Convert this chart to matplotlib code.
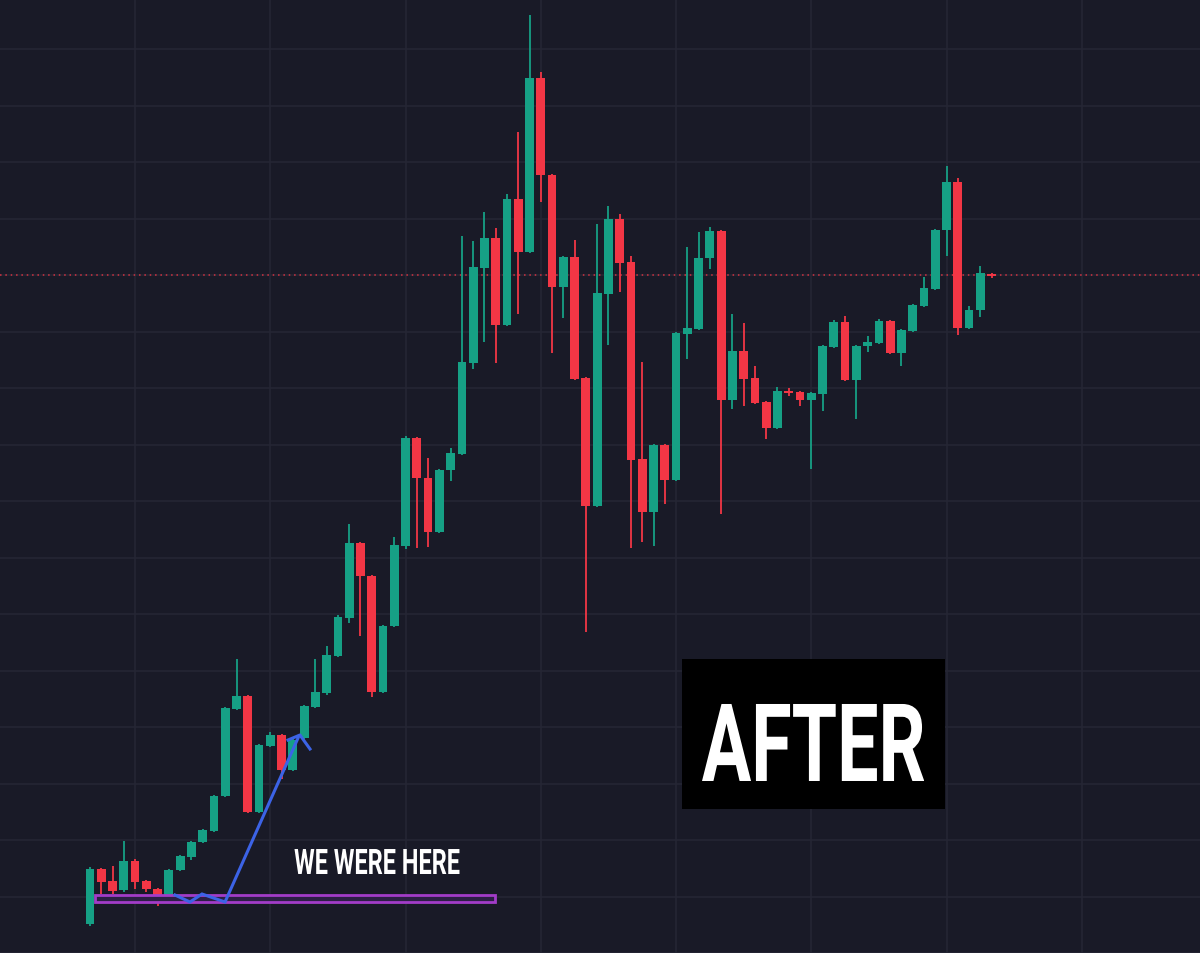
import matplotlib
matplotlib.use("Agg")
import matplotlib.pyplot as plt
import numpy as np
from matplotlib import patheffects
from matplotlib.patches import Rectangle
from matplotlib.ticker import MultipleLocator
from matplotlib.transforms import Affine2D

# candle data (price units)
opens = [29, 84, 72, 63, 92, 72, 64, 52, 83, 96,
         111, 122, 157, 244, 257, 141, 207, 218, 183, 215,
         246, 260, 297, 335, 410, 377, 261, 327, 407, 515,
         475, 421, 483, 499, 590, 685, 715, 628, 754, 701,
         875, 778, 666, 696, 575, 447, 659, 734, 691, 494,
         441, 508, 473, 619, 624, 695, 722, 553, 602, 575,
         551, 525, 562, 561, 553, 559, 606, 631, 573, 607,
         610, 632, 600, 622, 647, 664, 723, 771, 625, 643, 679]
highs = [86, 85, 87, 112, 94, 73, 65, 84, 98, 112,
         124, 158, 246, 294, 258, 209, 221, 219, 214, 248,
         294, 307, 338, 429, 411, 378, 328, 416, 517, 516,
         495, 484, 505, 717, 712, 741, 725, 759, 821, 938,
         881, 779, 697, 713, 576, 729, 747, 739, 697, 591,
         509, 509, 621, 706, 721, 726, 723, 639, 630, 587,
         552, 566, 565, 562, 561, 608, 633, 637, 608, 617,
         634, 633, 624, 649, 676, 724, 787, 775, 647, 687, 680]
lows = [27, 59, 59, 61, 64, 61, 47, 51, 82, 93,
        110, 121, 156, 243, 140, 140, 206, 174, 182, 214,
        245, 258, 296, 330, 317, 256, 260, 326, 404, 405,
        406, 420, 472, 498, 584, 611, 590, 627, 639, 700,
        751, 600, 635, 573, 321, 446, 608, 661, 405, 411,
        407, 449, 472, 594, 623, 684, 439, 544, 547, 549,
        514, 524, 557, 547, 484, 542, 605, 572, 534, 601,
        609, 599, 587, 621, 646, 663, 697, 618, 624, 636, 675]
closes = [84, 71, 62, 92, 71, 64, 51, 83, 97, 111,
          123, 157, 245, 257, 141, 208, 218, 183, 213, 247,
          261, 298, 336, 410, 377, 261, 327, 408, 515, 475,
          421, 483, 500, 591, 686, 715, 628, 754, 701, 875,
          778, 666, 696, 574, 447, 660, 734, 690, 493, 441,
          508, 473, 620, 625, 695, 722, 553, 602, 574, 550,
          525, 562, 560, 553, 560, 607, 631, 573, 607, 611,
          632, 600, 623, 648, 665, 723, 771, 625, 643, 680, 677]

last_price = 678

# annotations
zone_start, zone_end = 0.44, 35.94
zone_low, zone_high = 51, 58
arrow_x = [7.54, 8.87, 9.94, 11.98, 18.46]
arrow_y = [58, 51, 59, 51, 215]
head_x = [17.57, 18.63, 19.52]
head_y = [213, 218, 204]

BG = "#191a27"
GRID = "#252634"
UP = "#16a085"
DOWN = "#f23645"


class SqueezeTo(patheffects.AbstractPathEffect):
    """Squeeze text horizontally to a target width (condensed look)."""

    def __init__(self, width_px):
        super().__init__()
        self.width_px = width_px

    def draw_path(self, renderer, gc, tpath, affine, rgbFace=None):
        bb = tpath.get_extents(affine)
        sx = self.width_px / bb.width
        cx = bb.x0 + bb.width / 2
        squeeze = Affine2D().translate(-cx, 0).scale(sx, 1).translate(cx, 0)
        renderer.draw_path(gc, tpath, affine + squeeze, rgbFace)


fig = plt.figure(figsize=(12, 9.54), dpi=100)
fig.patch.set_facecolor(BG)
ax = fig.add_axes([0, 0, 1, 1])
ax.set_facecolor(BG)

o = np.array(opens)
c = np.array(closes)
h = np.array(highs)
l = np.array(lows)
x = np.arange(len(o))
colors = np.where(c >= o, UP, DOWN)

ax.vlines(x, l, h, colors=colors, linewidth=1.3, zorder=3)
body_h = np.maximum(np.abs(c - o), 1.5)
ax.bar(x, body_h, bottom=np.minimum(o, c), width=0.78, color=colors,
       linewidth=0, zorder=4)

# last price line
ax.axhline(last_price, color=DOWN, linestyle=(0, (1, 2.5)), linewidth=1.1,
           alpha=0.85, zorder=2)

# "we were here" zone + arrow
ax.add_patch(Rectangle((zone_start, zone_low), zone_end - zone_start,
                       zone_high - zone_low, facecolor="#2c1f45",
                       edgecolor="#a23cc8", linewidth=2, zorder=5))
ax.plot(arrow_x, arrow_y, color="#3c63e6", linewidth=2.2, zorder=6,
        solid_joinstyle="miter")
ax.plot(head_x, head_y, color="#3c63e6", linewidth=2.2, zorder=6)

ax.text(377 / 1200, 1 - 875 / 954, "WE WERE HERE", transform=ax.transAxes,
        ha="center", va="baseline", color="white", fontsize=25.3,
        family="Roboto", weight="bold", zorder=7,
        path_effects=[SqueezeTo(165)])

# AFTER label
ax.add_patch(Rectangle((682 / 1200, 1 - 810 / 954), 263 / 1200, 150 / 954,
                       transform=ax.transAxes, facecolor="black",
                       edgecolor="none", zorder=7))
ax.text(814 / 1200, 1 - 782 / 954, "AFTER", transform=ax.transAxes,
        ha="center", va="baseline", color="white", fontsize=78,
        family="Roboto", weight="bold", zorder=8,
        path_effects=[SqueezeTo(222)])

# grid
ax.xaxis.set_major_locator(MultipleLocator(12, offset=4))
ax.yaxis.set_major_locator(MultipleLocator(56.5))
ax.grid(True, color=GRID, linewidth=1.2, zorder=0)
ax.set_axisbelow(True)
ax.tick_params(length=0, labelbottom=False, labelleft=False)
for s in ax.spines.values():
    s.set_visible(False)

ax.set_xlim(-90 / 11.27, 1110 / 11.27)
ax.set_ylim(0, 954)

fig.savefig("out.png", dpi=100, facecolor=BG)
